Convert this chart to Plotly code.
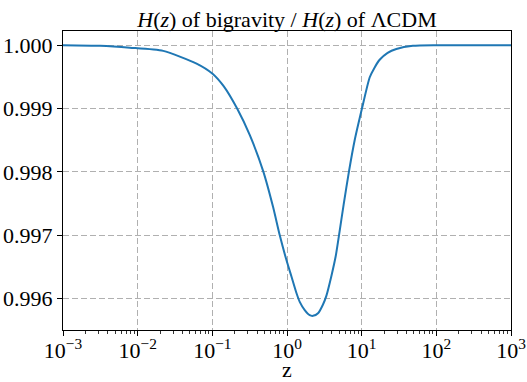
import plotly.graph_objects as go

z_values = [0.001, 0.00313, 0.00787, 0.0220, 0.0615, 0.1007, 0.1425, 0.2148,
            0.3177, 0.4808, 0.6501, 0.7998, 0.983, 1.147, 1.338, 1.481, 1.728,
            2.015, 2.231, 2.603, 3.035, 3.372, 3.932, 4.489, 4.970, 5.742, 6.763,
            8.060, 10.09, 12.79, 14.93, 17.42, 22.28, 29.12, 48.53, 100.0, 1000.0]
h_ratio = [1.00000, 0.99999, 0.99996, 0.99991, 0.99971, 0.99955, 0.99935, 0.99900,
           0.99858, 0.99801, 0.99745, 0.99700, 0.99661, 0.99635, 0.99609, 0.99595,
           0.99582, 0.99574, 0.99573, 0.99577, 0.99591, 0.99605, 0.99636, 0.99667,
           0.99700, 0.99749, 0.99801, 0.99850, 0.99900, 0.99949, 0.99965, 0.99977,
           0.99988, 0.99994, 0.99999, 1.00000, 1.00000]

x_tick_vals = [1e-3, 1e-2, 1e-1, 1e0, 1e1, 1e2, 1e3]
x_tick_text = ["10<sup>\u22123</sup>", "10<sup>\u22122</sup>", "10<sup>\u22121</sup>",
               "10<sup>0</sup>", "10<sup>1</sup>", "10<sup>2</sup>", "10<sup>3</sup>"]
y_tick_vals = [0.996, 0.997, 0.998, 0.999, 1.000]
y_tick_text = ["0.996", "0.997", "0.998", "0.999", "1.000"]

FONT = "Liberation Serif"

fig = go.Figure()
fig.add_trace(go.Scatter(
    x=z_values, y=h_ratio, mode="lines",
    line=dict(color="#1f77b4", width=2, shape="spline", smoothing=0.6),
    showlegend=False,
))

fig.update_layout(
    width=527, height=382,
    margin=dict(l=63, r=16, t=31, b=52),
    paper_bgcolor="white", plot_bgcolor="white",
    font=dict(family=FONT, size=22, color="black"),
    title=dict(text="<i>H</i>(<i>z</i>) of bigravity / <i>H</i>(<i>z</i>) of \u039bCDM",
               x=0.5, xref="paper", y=1 - 19 / 382, yref="container",
               xanchor="center", yanchor="middle",
               font=dict(family=FONT, size=22, color="black")),
)

fig.update_xaxes(
    type="log", range=[-3, 3], automargin=False,
    tickvals=x_tick_vals, ticktext=x_tick_text,
    ticks="outside", ticklen=5, tickwidth=1, tickcolor="black",
    showline=True, linecolor="black", linewidth=1, mirror=True,
    showgrid=True, gridcolor="#b0b0b0", griddash="6px,3px", gridwidth=1,
    zeroline=False,
    minor=dict(ticks="outside", ticklen=3, tickwidth=0.8, tickcolor="black",
               showgrid=False, dtick="D1"),
    title=dict(text="z", font=dict(family=FONT, size=22), standoff=0),
    tickfont=dict(family=FONT, size=22),
    ticklabelstandoff=-4,
)
fig.update_yaxes(
    range=[0.995507, 1.000224], automargin=False,
    tickvals=y_tick_vals, ticktext=y_tick_text,
    ticks="outside", ticklen=5, tickwidth=1, tickcolor="black",
    showline=True, linecolor="black", linewidth=1, mirror=True,
    showgrid=True, gridcolor="#b0b0b0", griddash="6px,3px", gridwidth=1,
    zeroline=False,
    tickfont=dict(family=FONT, size=22),
)

fig.write_html("out.html",
               config={"displayModeBar": False, "staticPlot": True},
               post_script="document.body.style.margin='0';document.body.style.overflow='hidden';")
